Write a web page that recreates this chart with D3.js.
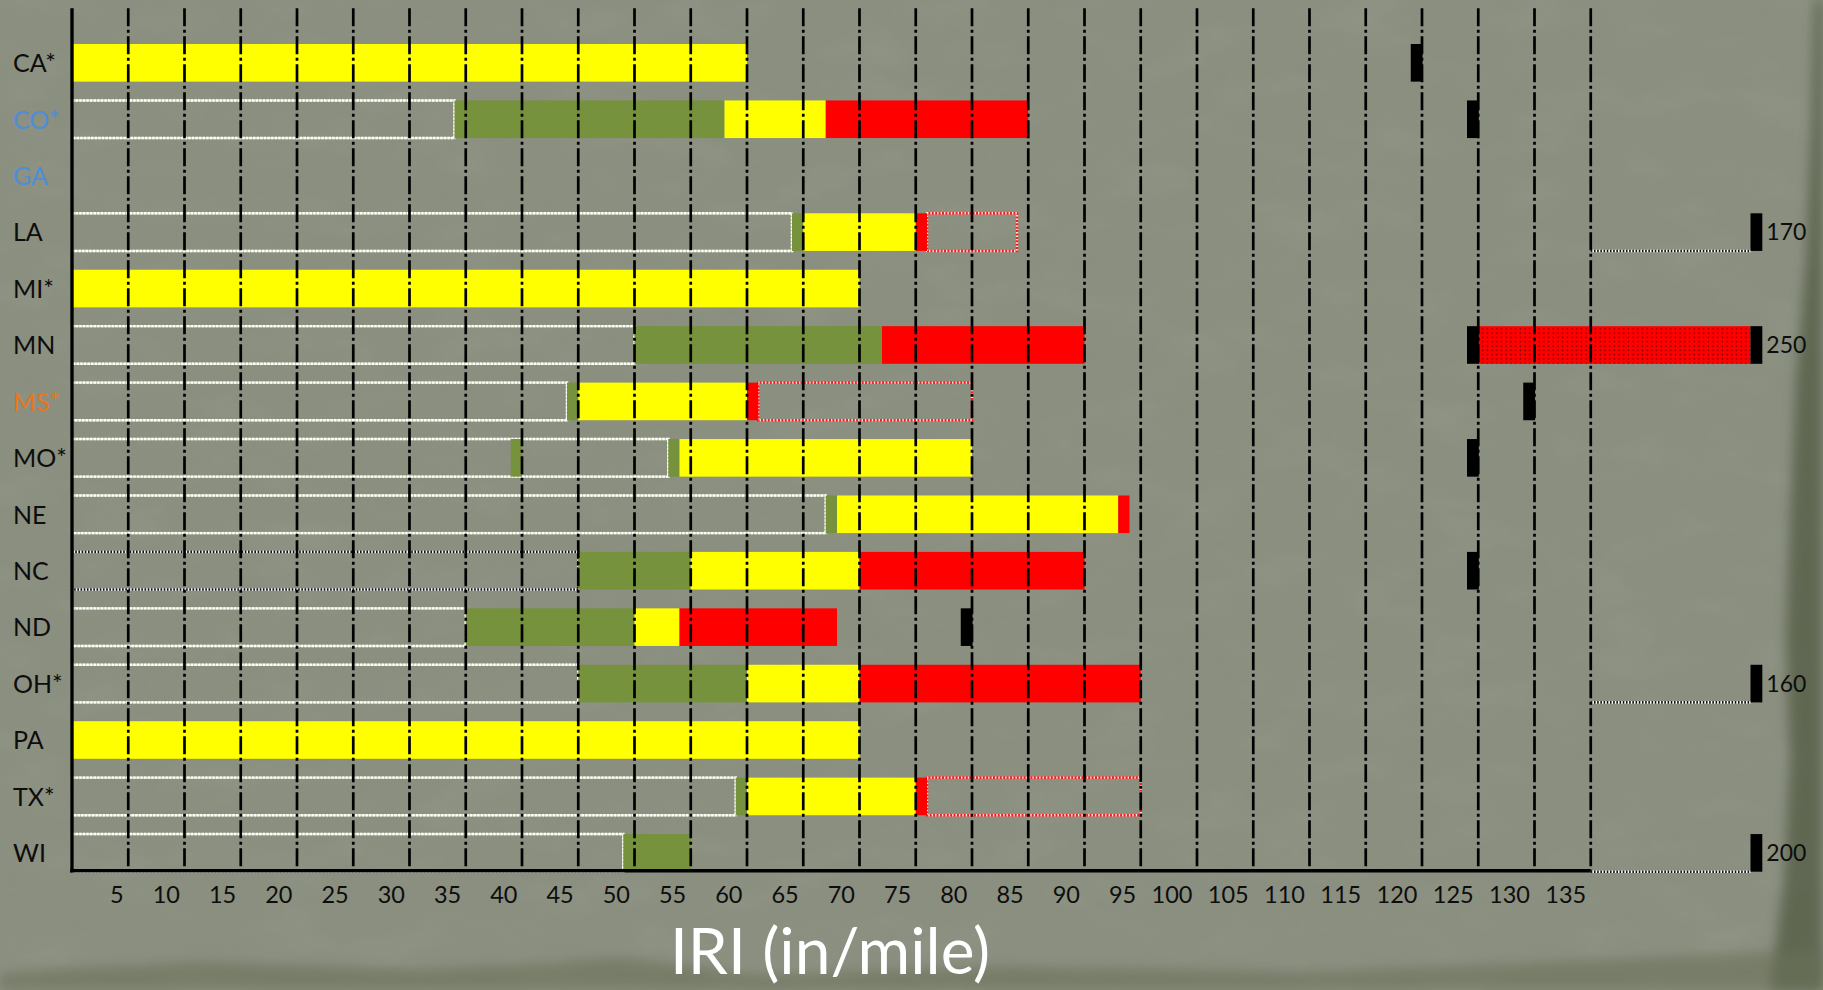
<!DOCTYPE html>
<html><head><meta charset="utf-8">
<script src="https://cdn.jsdelivr.net/npm/d3@7"></script>
<style>html,body{margin:0;padding:0;background:#8a8f80;overflow:hidden}</style>
</head><body><svg id="c" width="1823" height="990"></svg>
<script>
// ---------------- data ----------------
const states = ["CA*","CO*","GA","LA","MI*","MN","MS*","MO*","NE","NC","ND","OH*","PA","TX*","WI"];
const blueStates = ["CO*","GA"];
const orangeStates = ["MS*"];
// light dotted outline (no fill), from 0 to value
const outlineEnd      = [null,34,null,64,null,50,44,53,67,null,35,45,null,59,49];
// dark dotted outline (no fill), from 0 to value
const darkOutlineEnd  = [null,null,null,null,null,null,null,null,null,45,null,null,null,null,null];
// green segment
const greenFrom = [null,34,null,64,null,50,44,53,67,45,35,45,null,59,49];
const greenTo   = [null,58,null,65,null,72,45,54,68,55,50,60,null,60,55];
const greenExtraFrom = [null,null,null,null,null,null,null,39,null,null,null,null,null,null,null];
const greenExtraTo   = [null,null,null,null,null,null,null,40,null,null,null,null,null,null,null];
// yellow segment
const yellowFrom = [0,58,null,65,0,null,45,54,68,55,50,60,0,60,null];
const yellowTo   = [60,67,null,75,70,null,60,80,93,70,54,70,70,75,null];
// red segment
const redFrom = [null,67,null,75,null,72,60,null,93,70,54,70,null,75,null];
const redTo   = [null,85,null,76,null,90,61,null,94,90,68,95,null,76,null];
// red dotted outline (no fill)
const redOutlineFrom = [null,null,null,76,null,null,61,null,null,null,null,null,null,76,null];
const redOutlineTo   = [null,null,null,84,null,null,80,null,null,null,null,null,null,95,null];
// black marker (start value)
const markerAt = [119,124,null,null,null,124,129,124,null,124,79,null,null,null,null];
// stippled red from value to the off-scale break
const stippleFrom = [null,null,null,null,null,125,null,null,null,null,null,null,null,null,null];
// values beyond the axis, drawn at the break
const offScaleValue = [null,null,null,170,null,250,null,null,null,null,null,160,null,null,200];
const xTickLabels = [5,10,15,20,25,30,35,40,45,50,55,60,65,70,75,80,85,90,95,100,105,110,115,120,125,130,135];
const axisMax = 135;
const breakAt = 149.2;
const markerWidth = 1.05;
const axisTitle = "IRI (in/mile)";

// ---------------- chart ----------------
const W = 1823, H = 990;
const svg = d3.select("#c");
const defs = svg.append("defs");

const noise = defs.append("filter").attr("id","noise").attr("x",0).attr("y",0).attr("width","100%").attr("height","100%");
noise.append("feTurbulence").attr("type","fractalNoise").attr("baseFrequency","0.012 0.025").attr("numOctaves",4).attr("seed",7).attr("result","t");
noise.append("feColorMatrix").attr("type","matrix")
  .attr("values","0 0 0 0 0.33  0 0 0 0 0.35  0 0 0 0 0.28  1.1 0 0 0 -0.5");
const blur = defs.append("filter").attr("id","blur").attr("x","-20%").attr("y","-20%").attr("width","140%").attr("height","140%");
blur.append("feGaussianBlur").attr("stdDeviation",6);

const pat = defs.append("pattern").attr("id","stipple").attr("patternUnits","userSpaceOnUse")
  .attr("width",4.7).attr("height",4.3);
pat.append("rect").attr("width",4.7).attr("height",4.3).attr("fill","#ff0000");
pat.append("rect").attr("x",1.6).attr("y",1.4).attr("width",1.3).attr("height",1.3).attr("fill","#5a0000");

// background
svg.append("rect").attr("width",W).attr("height",H).attr("fill","#8a8f80");
svg.append("rect").attr("width",W).attr("height",H).attr("filter","url(#noise)").attr("opacity",0.55);
// darker torn edges
svg.append("path").attr("filter","url(#blur)").attr("fill","#5c634d").attr("opacity",0.9)
  .attr("d","M1823,0 L1815,0 L1812,120 L1806,260 L1796,380 L1790,520 L1786,640 L1790,760 L1784,880 L1770,990 L1823,990 Z");
svg.append("path").attr("filter","url(#blur)").attr("fill","#6a7159").attr("opacity",0.6)
  .attr("d","M0,990 L0,972 L200,962 L420,970 L620,958 L760,975 L1000,966 L1300,972 L1600,960 L1823,950 L1823,990 Z");

const x = d3.scaleLinear().domain([0, axisMax]).range([72, 1590.75]);
const y = d3.scaleBand().domain(states).range([34.6, 881.1]).paddingInner(1/3).paddingOuter(1/6);
const bw = y.bandwidth();
const rows = states.map((s,i)=>({s,i}));

const g = svg.append("g");

function seg(fromArr, toArr, fill){
  g.append("g").selectAll("rect").data(rows.filter(d=>fromArr[d.i]!=null && toArr[d.i]!=null)).join("rect")
    .attr("x", d=>x(fromArr[d.i])).attr("y", d=>y(d.s))
    .attr("width", d=>x(toArr[d.i])-x(fromArr[d.i])).attr("height", bw)
    .attr("fill", fill);
}

// light dotted outlines
g.append("g").selectAll("rect").data(rows.filter(d=>outlineEnd[d.i]!=null)).join("rect")
  .attr("x", x(0)).attr("y", d=>y(d.s)).attr("width", d=>x(outlineEnd[d.i])-x(0)).attr("height", bw)
  .attr("fill","none").attr("stroke","#c9d4b0").attr("stroke-width",2.4);
g.append("g").selectAll("rect").data(rows.filter(d=>outlineEnd[d.i]!=null)).join("rect")
  .attr("x", x(0)).attr("y", d=>y(d.s)).attr("width", d=>x(outlineEnd[d.i])-x(0)).attr("height", bw)
  .attr("fill","none").attr("stroke","#ffffff").attr("stroke-width",2.4).attr("stroke-dasharray","2.4,1.2");
// dark dotted outlines
g.append("g").selectAll("rect").data(rows.filter(d=>darkOutlineEnd[d.i]!=null)).join("rect")
  .attr("x", x(0)).attr("y", d=>y(d.s)).attr("width", d=>x(darkOutlineEnd[d.i])-x(0)).attr("height", bw)
  .attr("fill","none").attr("stroke","#f4f4f4").attr("stroke-width",2.6);
g.append("g").selectAll("rect").data(rows.filter(d=>darkOutlineEnd[d.i]!=null)).join("rect")
  .attr("x", x(0)).attr("y", d=>y(d.s)).attr("width", d=>x(darkOutlineEnd[d.i])-x(0)).attr("height", bw)
  .attr("fill","none").attr("stroke","#111").attr("stroke-width",2.6).attr("stroke-dasharray","1.6,1.6");
// red dotted outlines
g.append("g").selectAll("rect").data(rows.filter(d=>redOutlineFrom[d.i]!=null)).join("rect")
  .attr("x", d=>x(redOutlineFrom[d.i])).attr("y", d=>y(d.s))
  .attr("width", d=>x(redOutlineTo[d.i])-x(redOutlineFrom[d.i])).attr("height", bw)
  .attr("fill","none").attr("stroke","#ff1a1a").attr("stroke-width",2.4);
g.append("g").selectAll("rect").data(rows.filter(d=>redOutlineFrom[d.i]!=null)).join("rect")
  .attr("x", d=>x(redOutlineFrom[d.i])).attr("y", d=>y(d.s))
  .attr("width", d=>x(redOutlineTo[d.i])-x(redOutlineFrom[d.i])).attr("height", bw)
  .attr("fill","none").attr("stroke","#ffe0e0").attr("stroke-width",2.4).attr("stroke-dasharray","1.4,2");

seg(greenFrom, greenTo, "#76923c");
seg(greenExtraFrom, greenExtraTo, "#76923c");
seg(yellowFrom, yellowTo, "#ffff00");
seg(redFrom, redTo, "#ff0000");

// stippled red beyond the axis
g.append("g").selectAll("rect").data(rows.filter(d=>stippleFrom[d.i]!=null)).join("rect")
  .attr("x", d=>x(stippleFrom[d.i])).attr("y", d=>y(d.s))
  .attr("width", d=>x(breakAt)-x(stippleFrom[d.i])).attr("height", bw)
  .attr("fill","url(#stipple)");

// break lines (dotted) for off-scale rows without stipple
const brk = rows.filter(d=>offScaleValue[d.i]!=null && stippleFrom[d.i]==null);
g.append("g").selectAll("line").data(brk).join("line")
  .attr("x1", x(axisMax)).attr("x2", x(breakAt))
  .attr("y1", d=>y(d.s)+bw).attr("y2", d=>y(d.s)+bw)
  .attr("stroke","#ffffff").attr("stroke-width",2.6);
g.append("g").selectAll("line").data(brk).join("line")
  .attr("x1", x(axisMax)).attr("x2", x(breakAt))
  .attr("y1", d=>y(d.s)+bw).attr("y2", d=>y(d.s)+bw)
  .attr("stroke","#111").attr("stroke-width",2.6).attr("stroke-dasharray","1.6,1.6");

// black markers
g.append("g").selectAll("rect").data(rows.filter(d=>markerAt[d.i]!=null)).join("rect")
  .attr("x", d=>x(markerAt[d.i])).attr("y", d=>y(d.s))
  .attr("width", x(markerWidth)-x(0)).attr("height", bw).attr("fill","#000");
const off = rows.filter(d=>offScaleValue[d.i]!=null);
g.append("g").selectAll("rect").data(off).join("rect")
  .attr("x", x(breakAt)).attr("y", d=>y(d.s))
  .attr("width", x(markerWidth)-x(0)).attr("height", bw).attr("fill","#000");
g.append("g").selectAll("text").data(off).join("text")
  .attr("x", x(breakAt+markerWidth)+4).attr("y", d=>y(d.s)+bw/2)
  .attr("dy","0.36em").attr("font-family","Lato, sans-serif").attr("font-size",23).attr("fill","#0d0d0d")
  .text(d=>offScaleValue[d.i]);

// gridlines (dash-dot)
const plotTop = 8.3, axisY = 870.7;
g.append("g").selectAll("line").data(xTickLabels).join("line")
  .attr("x1", d=>x(d)).attr("x2", d=>x(d)).attr("y1", plotTop).attr("y2", axisY)
  .attr("stroke","#000").attr("stroke-width",2.7).attr("stroke-dasharray","18,3.5,3,3.5");

// axes lines
g.append("line").attr("x1", x(0)).attr("x2", x(0)).attr("y1", plotTop).attr("y2", axisY+1.7)
  .attr("stroke","#000").attr("stroke-width",3.4);
g.append("line").attr("x1", x(0)-1.7).attr("x2", x(axisMax)).attr("y1", axisY).attr("y2", axisY)
  .attr("stroke","#000").attr("stroke-width",3.4);

// x axis labels
const xa = g.append("g").attr("transform",`translate(0,${axisY})`)
  .call(d3.axisBottom(x).tickValues(xTickLabels).tickSize(0).tickPadding(0));
xa.select(".domain").remove();
xa.selectAll("text").attr("text-anchor","end").attr("dx",-5).attr("y",32).attr("dy",0)
  .attr("font-family","Lato, sans-serif").attr("font-size",23.5).attr("fill","#0d0d0d");

// y axis labels
const ya = g.append("g").attr("transform",`translate(${x(0)},0)`)
  .call(d3.axisLeft(y).tickSize(0));
ya.select(".domain").remove();
ya.selectAll("text").attr("text-anchor","start").attr("x", 13 - x(0)).attr("dy","0.37em")
  .attr("font-family","Lato, sans-serif").attr("font-size",25)
  .attr("fill", d=> blueStates.includes(d) ? "#4f8dd8" : orangeStates.includes(d) ? "#e8761c" : "#0d0d0d");

// axis title
svg.append("text").attr("x", 830).attr("y", 974).attr("text-anchor","middle")
  .attr("font-family","Lato, sans-serif").attr("font-size",64).attr("fill","#ffffff")
  .text(axisTitle);
</script>
</body></html>
